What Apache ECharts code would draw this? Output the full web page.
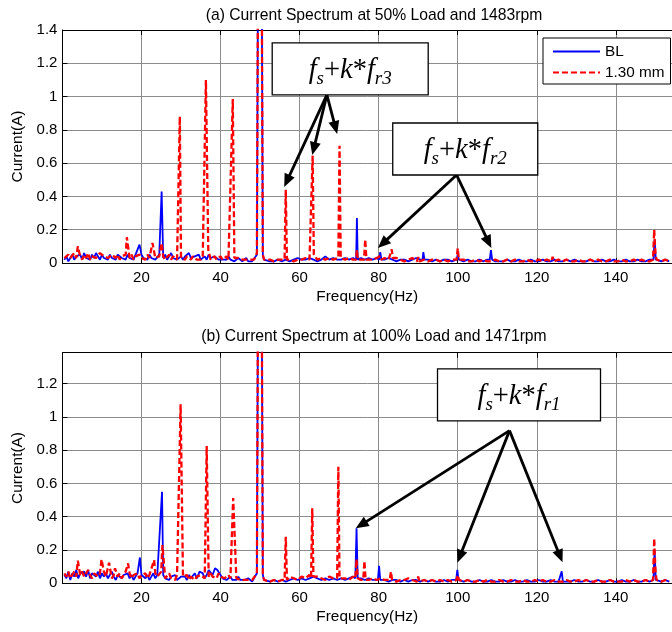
<!DOCTYPE html>
<html>
<head>
<meta charset="utf-8">
<script src="https://cdn.jsdelivr.net/npm/echarts@6/dist/echarts.min.js"></script>
<style>html,body{margin:0;padding:0;background:#fff}#c{width:672px;height:632px}</style>
</head>
<body>
<div id="c"></div>
<script>
// ---- data ----
const titles = ['(a) Current Spectrum at 50% Load and 1483rpm', '(b) Current Spectrum at 100% Load and 1471rpm'];
const seriesNames = ['BL', '1.30 mm'];
const xTicks = [20, 40, 60, 80, 100, 120, 140];

// noise floor, 0.5..49.0 Hz at 0.5 Hz resolution
const blA_low = [
 0.02,0.04,0.01,0.03,0.05,0.02,0.04,0.03,0.05,0.02,
 0.06,0.03,0.04,0.02,0.05,0.03,0.06,0.04,0.02,0.05,
 0.03,0.04,0.02,0.05,0.03,0.04,0.02,0.05,0.04,0.03,
 0.04,0.02,0.05,0.03,0.04,0.02,0.05,0.04,0.03,0.05,
 0.03,0.04,0.02,0.05,0.03,0.04,0.02,0.03,0.05,0.04,
 0.03,0.05,0.02,0.04,0.06,0.03,0.04,0.02,0.03,0.04,
 0.02,0.04,0.05,0.06,0.03,0.02,0.04,0.03,0.05,0.02,
 0.03,0.04,0.02,0.05,0.03,0.02,0.04,0.03,0.02,0.03,
 0.02,0.03,0.02,0.04,0.02,0.03,0.01,0.02,0.03,0.02,
 0.01,0.02,0.03,0.01,0.02,0.01,0.02,0.01];
const redA_low = [
 0.03,0.02,0.05,0.03,0.04,0.06,0.03,0.05,0.04,0.02,
 0.05,0.03,0.06,0.02,0.04,0.05,0.03,0.04,0.06,0.05,
 0.04,0.05,0.03,0.02,0.05,0.04,0.03,0.05,0.02,0.04,
 0.03,0.05,0.04,0.03,0.05,0.02,0.04,0.03,0.05,0.03,
 0.04,0.02,0.05,0.03,0.04,0.05,0.03,0.02,0.04,0.06,
 0.04,0.02,0.03,0.05,0.02,0.04,0.03,0.02,0.04,0.03,
 0.03,0.02,0.04,0.03,0.02,0.04,0.03,0.02,0.03,0.02,
 0.04,0.02,0.03,0.04,0.02,0.03,0.04,0.02,0.03,0.04,
 0.02,0.03,0.04,0.02,0.03,0.02,0.03,0.02,0.03,0.02,
 0.02,0.01,0.02,0.03,0.02,0.01,0.02,0.03];
const blB_low = [
 0.05,0.03,0.07,0.02,0.06,0.04,0.08,0.03,0.06,0.05,
 0.07,0.04,0.08,0.03,0.06,0.05,0.04,0.07,0.03,0.06,
 0.04,0.06,0.03,0.05,0.07,0.04,0.02,0.05,0.06,0.03,
 0.05,0.04,0.06,0.03,0.05,0.02,0.04,0.06,0.03,0.05,
 0.04,0.03,0.05,0.02,0.04,0.06,0.03,0.05,0.04,0.03,
 0.05,0.03,0.04,0.02,0.04,0.03,0.05,0.02,0.03,0.04,
 0.03,0.04,0.02,0.05,0.03,0.04,0.06,0.03,0.05,0.04,
 0.06,0.03,0.05,0.04,0.07,0.05,0.08,0.04,0.09,0.05,
 0.03,0.04,0.02,0.03,0.04,0.02,0.03,0.02,0.04,0.02,
 0.03,0.02,0.01,0.03,0.02,0.01,0.02,0.04];
const redB_low = [
 0.06,0.04,0.07,0.03,0.05,0.07,0.04,0.06,0.05,0.07,
 0.04,0.06,0.08,0.05,0.03,0.06,0.07,0.04,0.06,0.05,
 0.07,0.04,0.05,0.06,0.03,0.05,0.07,0.04,0.06,0.03,
 0.05,0.07,0.04,0.06,0.03,0.05,0.04,0.06,0.03,0.05,
 0.04,0.06,0.03,0.05,0.04,0.03,0.06,0.04,0.05,0.07,
 0.05,0.03,0.04,0.06,0.03,0.04,0.02,0.05,0.04,0.03,
 0.04,0.03,0.05,0.02,0.04,0.03,0.02,0.04,0.03,0.05,
 0.04,0.03,0.05,0.04,0.06,0.04,0.05,0.03,0.06,0.04,
 0.05,0.03,0.04,0.05,0.03,0.04,0.02,0.03,0.04,0.02,
 0.03,0.02,0.03,0.02,0.01,0.02,0.03,0.02];

// noise floor, 51.5..153.5 Hz at 1 Hz resolution
const blA_high = [
 0.02,0.01,0.01,0.02,0.01,0.02,0.01,0.02,0.03,0.02,
 0.02,0.03,0.02,0.01,0.02,0.04,0.02,0.03,0.02,0.02,
 0.03,0.02,0.03,0.02,0.03,0.02,0.03,0.02,0.03,0.02,
 0.02,0.03,0.02,0.01,0.02,0.02,0.01,0.02,0.03,0.02,
 0.02,0.02,0.01,0.02,0.01,0.02,0.02,0.01,0.02,0.01,
 0.01,0.02,0.01,0.01,0.02,0.01,0.02,0.02,0.01,0.01,
 0.01,0.02,0.01,0.01,0.02,0.01,0.01,0.02,0.01,0.01,
 0.02,0.01,0.01,0.02,0.01,0.01,0.02,0.01,0.02,0.01,
 0.01,0.01,0.02,0.01,0.01,0.02,0.01,0.01,0.02,0.01,
 0.01,0.02,0.01,0.01,0.02,0.01,0.01,0.02,0.03,0.02,
 0.01,0.02,0.01];
const redA_high = [
 0.01,0.02,0.01,0.02,0.02,0.03,0.02,0.01,0.02,0.02,
 0.03,0.02,0.03,0.02,0.03,0.02,0.03,0.02,0.03,0.03,
 0.02,0.03,0.02,0.03,0.02,0.03,0.02,0.02,0.03,0.02,
 0.03,0.02,0.02,0.03,0.02,0.01,0.02,0.03,0.02,0.02,
 0.02,0.01,0.02,0.02,0.01,0.02,0.01,0.02,0.02,0.01,
 0.02,0.01,0.01,0.02,0.01,0.02,0.01,0.01,0.02,0.01,
 0.01,0.02,0.01,0.02,0.01,0.01,0.02,0.01,0.01,0.02,
 0.01,0.02,0.01,0.01,0.02,0.01,0.02,0.01,0.01,0.02,
 0.01,0.01,0.02,0.01,0.02,0.01,0.01,0.02,0.01,0.01,
 0.02,0.01,0.01,0.02,0.01,0.02,0.01,0.01,0.02,0.02,
 0.01,0.02,0.01];
const blB_high = [
 0.02,0.01,0.02,0.01,0.02,0.01,0.02,0.03,0.02,0.03,
 0.02,0.03,0.04,0.03,0.02,0.03,0.02,0.03,0.02,0.03,
 0.02,0.03,0.04,0.02,0.03,0.02,0.03,0.02,0.03,0.02,
 0.02,0.01,0.02,0.02,0.01,0.02,0.01,0.02,0.02,0.01,
 0.02,0.01,0.02,0.01,0.01,0.02,0.01,0.02,0.01,0.01,
 0.01,0.02,0.01,0.01,0.02,0.01,0.01,0.02,0.01,0.01,
 0.02,0.01,0.01,0.02,0.01,0.01,0.02,0.01,0.01,0.02,
 0.01,0.01,0.02,0.01,0.01,0.02,0.01,0.01,0.02,0.01,
 0.01,0.02,0.01,0.01,0.02,0.01,0.01,0.02,0.01,0.01,
 0.02,0.01,0.01,0.02,0.01,0.01,0.02,0.01,0.03,0.02,
 0.01,0.02,0.01];
const redB_high = [
 0.01,0.01,0.02,0.01,0.02,0.03,0.04,0.03,0.02,0.04,
 0.03,0.05,0.03,0.04,0.03,0.02,0.04,0.03,0.04,0.03,
 0.03,0.02,0.04,0.03,0.02,0.03,0.02,0.03,0.02,0.03,
 0.02,0.03,0.02,0.01,0.02,0.02,0.03,0.02,0.01,0.02,
 0.02,0.01,0.02,0.01,0.02,0.01,0.02,0.01,0.02,0.01,
 0.01,0.02,0.01,0.01,0.02,0.01,0.02,0.01,0.01,0.02,
 0.01,0.01,0.02,0.01,0.01,0.02,0.01,0.01,0.02,0.01,
 0.02,0.01,0.01,0.02,0.01,0.01,0.02,0.01,0.01,0.02,
 0.01,0.02,0.01,0.01,0.02,0.01,0.01,0.02,0.01,0.01,
 0.01,0.02,0.01,0.02,0.01,0.01,0.02,0.01,0.03,0.02,
 0.01,0.02,0.01];

// spectral peaks [Hz, A]
const blA_peaks = [[19.5,0.11],[25.1,0.43],[32,0.06],[49.2,0.05],[49.6,2.5],[50.3,2.5],[50.7,0.05],[51.0,0.02],
 [74.3,0.02],[74.5,0.27],[74.7,0.02],[80.1,0.02],[80.4,0.065],[80.7,0.02],[91.1,0.02],[91.3,0.065],[91.6,0.02],
 [99.7,0.02],[100,0.05],[100.3,0.02],[108.1,0.02],[108.4,0.078],[108.7,0.02],[149.5,0.02],[149.8,0.14],[150.1,0.02]];
const redA_peaks = [[3.9,0.10],[10,0.07],[16.3,0.155],[22.8,0.12],[25.1,0.12],[29.7,0.88],[36.3,1.1],[36.9,0.08],[43.1,0.985],
 [49.2,0.06],[49.6,2.5],[50.3,2.5],[50.7,0.05],[51.0,0.02],
 [56.2,0.02],[56.5,0.44],[56.8,0.02],[63.0,0.03],[63.3,0.645],[63.6,0.05],[69.8,0.03],[70.1,0.705],[70.4,0.03],
 [74.3,0.02],[74.5,0.08],[74.7,0.02],[76.3,0.02],[76.6,0.142],[76.9,0.02],[80.0,0.02],[80.3,0.04],[80.6,0.02],
 [83.0,0.02],[83.3,0.082],[83.6,0.03],[89.7,0.01],[90,0.035],[90.3,0.01],[99.7,0.02],[100,0.088],[100.3,0.02],
 [123.7,0.01],[124,0.038],[124.3,0.01],[149.4,0.02],[149.7,0.2],[150.0,0.06],[150.3,0.02]];
const blB_peaks = [[19.6,0.155],[25.2,0.55],[34.7,0.07],[37,0.08],[38.6,0.09],[39.2,0.08],
 [49.2,0.06],[49.6,2.5],[50.3,2.5],[50.7,0.05],[51.0,0.02],
 [74.1,0.03],[74.4,0.33],[74.7,0.03],[79.8,0.02],[80.1,0.105],[80.4,0.02],[99.6,0.02],[99.9,0.08],[100.2,0.02],
 [126.0,0.01],[126.3,0.072],[126.6,0.01],[149.5,0.02],[149.8,0.2],[150.1,0.02]];
const redB_peaks = [[3.9,0.136],[9.9,0.144],[11.8,0.124],[13.3,0.09],[16.6,0.12],[23.2,0.14],[25.3,0.23],[29.9,1.075],[36.5,0.825],[43.2,0.512],
 [49.2,0.06],[49.6,2.5],[50.3,2.5],[50.7,0.05],[51.0,0.02],
 [56.2,0.02],[56.5,0.28],[56.8,0.02],[62.9,0.03],[63.2,0.45],[63.5,0.04],[69.5,0.03],[69.8,0.70],[70.1,0.03],
 [74.1,0.03],[74.4,0.144],[74.7,0.03],[76.1,0.02],[76.4,0.134],[76.7,0.02],[82.8,0.02],[83.1,0.07],[83.4,0.02],
 [89.7,0.01],[90,0.04],[90.3,0.01],[99.7,0.02],[100,0.05],[100.3,0.02],[149.4,0.02],[149.7,0.27],[150.0,0.08],[150.3,0.02]];

// annotations (data coordinates)
const annoLabels = ['r3', 'r2', 'r1'];
const annoGrid = [0, 0, 1];
const annoCenters = [[72.8, 1.166], [101.9, 0.685], [115.5, 1.132]];
const annoTails = [[66.9, 1.01], [99.7, 0.529], [113.1, 0.917]];
const annoTips = [
  [[56.1, 0.457], [63.2, 0.649], [69.5, 0.775]],
  [[79.8, 0.09], [108.5, 0.09]],
  [[74.2, 0.33], [99.9, 0.124], [126.5, 0.126]]
];

// ---- build ----
function build(low, high, peaks) {
  const pts = [];
  low.forEach((v, i) => pts.push([0.5 + i * 0.5, v]));
  high.forEach((v, i) => pts.push([51.5 + i, v]));
  const kept = pts.filter(p => !peaks.some(q => Math.abs(q[0] - p[0]) < 0.3));
  return kept.concat(peaks).sort((a, b) => a[0] - b[0]);
}

const SANS = "'Liberation Sans', Arial, sans-serif";
const SERIF = "'Liberation Serif', 'Times New Roman', serif";
const XMAX = 154.2;
const gridColor = '#8c8c8c';

function xAxisBottom(g) {
  return {
    type: 'value', gridIndex: g, min: 0, max: XMAX, interval: 20, position: 'bottom',
    name: 'Frequency(Hz)', nameLocation: 'middle', nameGap: 26,
    nameTextStyle: {fontFamily: SANS, fontSize: 15.4, color: '#000'},
    axisLine: {show: true, onZero: false, lineStyle: {color: '#000', width: 1}},
    axisTick: {show: true, inside: true, length: 5, lineStyle: {color: '#000'}},
    axisLabel: {show: true, margin: 7, fontFamily: SANS, fontSize: 15, color: '#000', showMinLabel: false, showMaxLabel: false},
    splitLine: {show: true, lineStyle: {color: gridColor, width: 1}}
  };
}
function xAxisTop(g) {
  return {
    type: 'value', gridIndex: g, min: 0, max: XMAX, interval: 20, position: 'top',
    axisLine: {show: true, onZero: false, lineStyle: {color: '#000', width: 1}},
    axisTick: {show: true, inside: true, length: 5, lineStyle: {color: '#000'}},
    axisLabel: {show: false}, splitLine: {show: false}
  };
}
function yAxis(g, max) {
  return {
    type: 'value', gridIndex: g, min: 0, max: max, interval: 0.2,
    name: 'Current(A)', nameLocation: 'middle', nameGap: 33,
    nameTextStyle: {fontFamily: SANS, fontSize: 15.4, color: '#000'},
    axisLine: {show: true, lineStyle: {color: '#000', width: 1}},
    axisTick: {show: true, inside: true, length: 5, lineStyle: {color: '#000'}},
    axisLabel: {show: true, margin: 5, fontFamily: SANS, fontSize: 15, color: '#000', showMaxLabel: max === 1.4},
    splitLine: {show: true, lineStyle: {color: gridColor, width: 1}}
  };
}
function lineSeries(name, xi, yi, data, isRed) {
  return {
    name: name, type: 'line', xAxisIndex: xi, yAxisIndex: yi, data: data,
    symbol: 'none', silent: true, clip: true,
    lineStyle: isRed ? {color: '#ff0000', width: 2.3, type: [6, 3]} : {color: '#0000ff', width: 1.8, type: 'solid'},
    itemStyle: {color: isRed ? '#ff0000' : '#0000ff'}
  };
}

const chart = echarts.init(document.getElementById('c'), null, {renderer: 'canvas'});
chart.setOption({
  animation: false,
  backgroundColor: '#fff',
  grid: [
    {left: 62.4, right: -2, top: 30, height: 233},
    {left: 62.4, right: -2, top: 352.7, height: 230.6}
  ],
  xAxis: [xAxisBottom(0), xAxisTop(0), xAxisBottom(1), xAxisTop(1)],
  yAxis: [yAxis(0, 1.4), yAxis(1, 1.385)],
  legend: {
    data: seriesNames, orient: 'vertical', left: 543, top: 38,
    itemWidth: 47, itemHeight: 14, itemGap: 6, padding: [6, 6, 4, 9],
    borderColor: '#000', borderWidth: 1, backgroundColor: '#fff',
    itemStyle: {color: 'rgba(0,0,0,0)', borderColor: 'rgba(0,0,0,0)', borderWidth: 0},
    textStyle: {fontFamily: SANS, fontSize: 15.3, color: '#000'},
    selectedMode: false
  },
  series: [
    lineSeries(seriesNames[0], 0, 0, build(blA_low, blA_high, blA_peaks), false),
    lineSeries(seriesNames[1], 0, 0, build(redA_low, redA_high, redA_peaks), true),
    lineSeries(seriesNames[0], 2, 1, build(blB_low, blB_high, blB_peaks), false),
    lineSeries(seriesNames[1], 2, 1, build(redB_low, redB_high, redB_peaks), true)
  ]
});

// ---- titles and annotations ----
const graphics = [];
[16, 336.5].forEach((y, i) => {
  graphics.push({type: 'text', x: 374, y: y, z: 10, silent: true,
    style: {text: titles[i], font: '15.7px ' + SANS, fill: '#000',
      align: 'center', verticalAlign: 'middle', textAlign: 'center', textVerticalAlign: 'middle'}});
});
const boxSize = [[156, 52], [145, 52], [163, 52]];
const rich = {
  m: {fontFamily: SERIF, fontStyle: 'italic', fontSize: 28.5, lineHeight: 36, color: '#000'},
  p: {fontFamily: SERIF, fontSize: 28.5, lineHeight: 36, color: '#000'},
  s: {fontFamily: SERIF, fontStyle: 'italic', fontSize: 19, lineHeight: 19, verticalAlign: 'bottom', color: '#000'}
};
annoLabels.forEach((lab, i) => {
  const g = {gridIndex: annoGrid[i]};
  const c = chart.convertToPixel(g, annoCenters[i]);
  const [w, h] = boxSize[i];
  const tail = chart.convertToPixel(g, annoTails[i]);
  annoTips[i].forEach(tp => {
    const p1 = chart.convertToPixel(g, tp);
    const dx = p1[0] - tail[0], dy = p1[1] - tail[1], L = Math.hypot(dx, dy);
    const ux = dx / L, uy = dy / L, hl = 13, hw = 5.5;
    const bx = p1[0] - ux * hl, by = p1[1] - uy * hl;
    graphics.push({type: 'line', z: 11, silent: true,
      shape: {x1: tail[0], y1: tail[1], x2: bx + ux * 1, y2: by + uy * 1},
      style: {stroke: '#000', lineWidth: 2.8}});
    graphics.push({type: 'polygon', z: 11, silent: true,
      shape: {points: [[p1[0], p1[1]], [bx - uy * hw, by + ux * hw], [bx + uy * hw, by - ux * hw]]},
      style: {fill: '#000'}});
  });
  graphics.push({type: 'rect', z: 12, silent: true,
    shape: {x: c[0] - w / 2, y: c[1] - h / 2, width: w, height: h},
    style: {fill: '#fff', stroke: '#000', lineWidth: 1.3}});
  graphics.push({type: 'text', x: c[0], y: c[1] + 2, z: 13, silent: true,
    style: {text: '{m|f}{s|s}{p|+}{m|k}{p|*}{m|f}{s|' + lab + '}', rich: rich,
      align: 'center', verticalAlign: 'middle', textAlign: 'center', textVerticalAlign: 'middle'}});
});
chart.setOption({graphic: graphics});
</script>
</body>
</html>
